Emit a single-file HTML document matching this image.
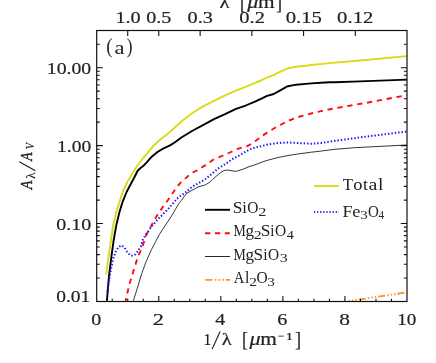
<!DOCTYPE html>
<html><head><meta charset="utf-8"><title>chart</title>
<style>
html,body{margin:0;padding:0;background:#fff;}
svg{display:block;will-change:transform;}
text{font-family:"Liberation Serif",serif;fill:#222;}
</style></head><body>
<svg width="436" height="363" viewBox="0 0 436 363">
<rect width="436" height="363" fill="#fff"/>
<defs><clipPath id="c"><rect x="96.7" y="30.5" width="310.3" height="271.6"/></clipPath></defs>
<g clip-path="url(#c)" fill="none" stroke-linejoin="round">
<polyline points="133.3,300.9 137.8,286.6 141.7,273.6 142.2,272.4 146.0,261.9 146.7,260.3 150.0,252.8 151.0,250.6 151.4,249.7 155.0,242.8 155.5,241.8 158.0,237.0 159.3,234.7 160.1,233.3 165.4,225.2 169.7,218.7 172.0,215.2 176.0,208.3 179.4,202.7 180.0,202.0 181.0,200.8 185.0,195.4 187.1,193.0 195.0,188.7 196.4,187.8 199.0,186.6 204.0,185.3 205.0,185.0 205.3,184.9 209.0,182.7 212.0,180.1 212.5,179.6 214.1,178.2 216.0,176.4 220.7,172.5 224.0,170.6 226.5,170.1 229.0,170.2 232.0,170.8 236.1,171.4 240.0,170.1 242.7,169.3 250.0,166.3 252.0,165.8 255.0,164.8 256.0,164.4 262.0,162.1 267.1,160.4 278.1,157.5 289.1,155.3 300.0,153.7 311.2,152.2 316.0,151.7 322.2,150.9 335.0,149.3 336.0,149.2 356.0,147.6 407.0,145.0" stroke="#2c2c2c" stroke-width="0.95"/>
<polyline points="348.0,301.2 407.0,292.3" stroke="#ff9326" stroke-width="1.8" stroke-dasharray="7.2 2.2 1.5 1.9 1.5 1.9 1.5 1.9" stroke-dashoffset="8.8"/>
<polyline points="125.6,300.9 129.2,284.8 133.6,270.5 138.1,256.1 141.8,248.5 146.0,235.8 146.6,234.2 150.0,228.2 154.3,219.9 158.0,214.2 163.9,205.3 165.0,204.0 170.0,197.3 172.0,194.1 173.6,191.8 176.0,188.3 180.0,183.3 181.0,182.2 182.6,181.0 189.8,174.5 192.0,172.8 198.0,170.0 203.0,166.6 205.7,165.1 212.0,160.5 214.0,159.4 222.0,156.0 225.1,154.7 232.0,151.5 236.1,149.7 240.0,148.2 247.2,146.1 250.0,144.6 256.0,140.6 262.0,136.1 267.1,132.6 278.1,126.0 289.1,120.5 300.0,116.5 311.2,113.5 322.2,110.9 331.0,109.0 356.0,104.6 365.0,103.1 407.0,95.2 407.0,95.2" stroke="#ff0d0d" stroke-width="1.9" stroke-dasharray="5.25 4.76" stroke-dashoffset="2.4"/>
<polyline points="106.9,300.9 109.0,275.8 111.7,254.3 113.7,240.0 116.5,224.2 119.5,212.0 122.6,201.9 126.6,192.0 131.2,183.3 134.8,176.5 137.5,171.0 140.5,168.0 143.2,166.0 146.5,162.6 152.0,156.4 157.5,152.0 163.1,148.6 170.0,145.4 175.0,142.2 181.0,137.8 192.0,131.0 203.0,125.2 214.0,119.2 225.1,114.2 236.0,108.8 245.0,105.8 245.7,105.5 255.0,101.6 255.6,101.3 256.0,101.1 262.0,98.3 266.0,96.3 267.1,95.9 272.0,94.5 273.5,94.0 273.7,94.0 280.3,90.3 285.6,87.3 286.9,86.5 293.5,85.1 296.0,84.7 306.0,83.9 311.2,83.4 325.0,82.5 330.0,82.3 335.0,82.2 360.0,81.4 407.0,79.6 407.0,79.6" stroke="#000" stroke-width="1.9"/>
<polyline points="107.3,292.0 108.7,282.1 111.4,266.9 113.4,257.9 116.1,250.8 118.8,246.8 121.5,245.4 124.2,247.2 126.9,251.6 130.1,255.2 132.7,255.8 135.4,254.3 138.1,250.8 139.0,249.3 140.8,246.8 142.7,240.1 145.0,235.9 147.7,232.1 150.4,228.1 153.0,224.9 153.2,224.7 158.2,218.7 159.8,217.4 165.9,211.3 166.4,210.9 173.0,203.4 173.6,202.7 176.0,199.9 178.0,197.8 182.6,194.5 183.2,194.2 189.2,189.3 192.0,186.8 195.8,184.7 198.0,183.4 202.4,181.1 203.0,180.6 205.0,179.2 209.0,176.1 212.0,173.7 214.0,171.9 218.6,168.2 225.1,164.2 231.8,159.4 236.0,157.1 238.4,156.0 240.0,155.1 245.0,152.0 247.0,150.9 252.0,148.6 256.0,147.3 262.0,146.0 267.1,144.7 278.1,143.0 289.1,142.5 300.0,143.2 311.2,143.7 322.2,142.9 335.0,140.8 340.0,140.2 356.0,137.9 407.0,131.5" stroke="#1414ff" stroke-width="2" stroke-dasharray="1.4 2.0"/>
<polyline points="106.2,274.4 108.5,257.0 111.0,240.0 113.4,224.2 116.3,212.0 119.5,201.9 123.1,191.0 127.3,182.0 132.0,174.0 137.1,166.0 142.5,158.8 148.3,151.8 153.5,145.8 159.4,140.3 166.8,134.6 174.0,128.3 181.0,121.8 192.0,113.2 203.0,106.4 214.0,100.9 225.1,95.4 236.0,90.6 245.0,87.1 245.7,86.8 255.0,82.9 255.6,82.7 256.0,82.5 262.0,80.0 266.0,78.0 267.1,77.5 273.5,75.2 273.7,75.2 280.3,71.7 285.6,69.3 286.9,68.6 293.5,67.2 296.0,66.8 306.0,65.7 311.2,65.0 325.0,63.6 330.0,63.1 335.0,62.6 360.0,60.5 407.0,56.1 407.0,56.1" stroke="#dada18" stroke-width="1.9"/>
</g>
<rect x="96.7" y="30.5" width="310.3" height="271.0" fill="none" stroke="#111" stroke-width="1.2"/>
<path d="M112.22 301.5 v-2.7 M127.73 301.5 v-2.7 M143.25 301.5 v-2.7 M158.76 301.5 v-5.4 M174.28 301.5 v-2.7 M189.79 301.5 v-2.7 M205.31 301.5 v-2.7 M220.82 301.5 v-5.4 M236.34 301.5 v-2.7 M251.85 301.5 v-2.7 M267.37 301.5 v-2.7 M282.88 301.5 v-5.4 M298.39 301.5 v-2.7 M313.91 301.5 v-2.7 M329.43 301.5 v-2.7 M344.94 301.5 v-5.4 M360.45 301.5 v-2.7 M375.97 301.5 v-2.7 M391.48 301.5 v-2.7 M127.73 30.5 v5.4 M158.76 30.5 v5.4 M200.13 30.5 v5.4 M251.85 30.5 v5.4 M303.57 30.5 v5.4 M355.28 30.5 v5.4 M96.7 278.04 h3.1 M407.0 278.04 h-3.1 M96.7 264.31 h3.1 M407.0 264.31 h-3.1 M96.7 254.58 h3.1 M407.0 254.58 h-3.1 M96.7 247.02 h3.1 M407.0 247.02 h-3.1 M96.7 240.85 h3.1 M407.0 240.85 h-3.1 M96.7 235.63 h3.1 M407.0 235.63 h-3.1 M96.7 231.11 h3.1 M407.0 231.11 h-3.1 M96.7 227.13 h3.1 M407.0 227.13 h-3.1 M96.7 223.56 h6.2 M407.0 223.56 h-6.2 M96.7 200.10 h3.1 M407.0 200.10 h-3.1 M96.7 186.37 h3.1 M407.0 186.37 h-3.1 M96.7 176.64 h3.1 M407.0 176.64 h-3.1 M96.7 169.08 h3.1 M407.0 169.08 h-3.1 M96.7 162.91 h3.1 M407.0 162.91 h-3.1 M96.7 157.69 h3.1 M407.0 157.69 h-3.1 M96.7 153.17 h3.1 M407.0 153.17 h-3.1 M96.7 149.19 h3.1 M407.0 149.19 h-3.1 M96.7 145.62 h6.2 M407.0 145.62 h-6.2 M96.7 122.16 h3.1 M407.0 122.16 h-3.1 M96.7 108.43 h3.1 M407.0 108.43 h-3.1 M96.7 98.70 h3.1 M407.0 98.70 h-3.1 M96.7 91.14 h3.1 M407.0 91.14 h-3.1 M96.7 84.97 h3.1 M407.0 84.97 h-3.1 M96.7 79.75 h3.1 M407.0 79.75 h-3.1 M96.7 75.23 h3.1 M407.0 75.23 h-3.1 M96.7 71.25 h3.1 M407.0 71.25 h-3.1 M96.7 67.68 h6.2 M407.0 67.68 h-6.2 M96.7 44.22 h3.1 M407.0 44.22 h-3.1 M96.7 30.49 h3.1 M407.0 30.49 h-3.1" stroke="#111" stroke-width="1.1" fill="none"/>
<!-- legend lines -->
<g fill="none">
<path d="M205 209.8H230" stroke="#000" stroke-width="1.9"/>
<path d="M205.1 233.3H229.8" stroke="#ff0d0d" stroke-width="1.9" stroke-dasharray="5.2 4.65"/>
<path d="M205 256.5H230" stroke="#2a2a2a" stroke-width="1"/>
<path d="M205.3 279.9H230" stroke="#ff9326" stroke-width="1.8" stroke-dasharray="7.1 2.5 1.6 2 1.6 2.2 1.6 1.7 6"/>
<path d="M314 186.1H339" stroke="#dada18" stroke-width="1.9"/>
<path d="M314 212H339" stroke="#1414ff" stroke-width="2" stroke-dasharray="1.15 1.95"/>
</g>
<g fill="#1c1c1c" stroke="#1c1c1c" stroke-width="0.18">
<text transform="translate(91.30,325.10) scale(1.156,1)" font-size="17.3">0</text>
<text transform="translate(152.85,325.10) scale(1.301,1)" font-size="17.3">2</text>
<text transform="translate(215.37,325.10) scale(1.156,1)" font-size="17.3">4</text>
<text transform="translate(277.32,325.10) scale(1.170,1)" font-size="17.3">6</text>
<text transform="translate(339.18,325.10) scale(1.239,1)" font-size="17.3">8</text>
<text transform="translate(397.13,325.10) scale(1.103,1)" font-size="17.3">10</text>
<text transform="translate(46.77,73.70) scale(1.142,1)" font-size="17.3">10.00</text>
<text transform="translate(57.09,151.70) scale(1.128,1)" font-size="17.3">1.00</text>
<text transform="translate(56.15,229.70) scale(1.160,1)" font-size="17.3">0.10</text>
<text transform="translate(56.17,302.00) scale(1.128,1)" font-size="17.3">0.01</text>
<text transform="translate(115.43,22.50) scale(1.171,1)" font-size="17.3">1.0</text>
<text transform="translate(146.25,22.60) scale(1.166,1)" font-size="17.3">0.5</text>
<text transform="translate(187.57,22.60) scale(1.171,1)" font-size="17.3">0.3</text>
<text transform="translate(239.28,22.60) scale(1.186,1)" font-size="17.3">0.2</text>
<text transform="translate(285.72,22.60) scale(1.198,1)" font-size="17.3">0.15</text>
<text transform="translate(337.12,22.60) scale(1.198,1)" font-size="17.3">0.12</text>
<text transform="translate(203.51,344.90) scale(0.912,1)" font-size="17.3">1</text>
<path d="M212.2 348.9L220.1 331.4" stroke-width="1.1" fill="none"/>
<text transform="translate(221.64,344.90) scale(1.217,1)" font-size="16.8">λ</text>
<text transform="translate(242.12,346.00) scale(0.813,1)" font-size="21.8">[</text>
<text transform="translate(249.45,344.90) scale(1.196,1)" font-size="18.5" font-style="italic">μ</text>
<text transform="translate(260.22,344.90) scale(1.186,1)" font-size="18">m</text>
<text transform="translate(278.09,339.70) scale(0.932,1)" font-size="12">−</text>
<text transform="translate(285.63,339.70) scale(1.355,1)" font-size="10.6">1</text>
<text transform="translate(295.01,346.00) scale(0.836,1)" font-size="21.8">]</text>
<text transform="translate(219.54,7.50) scale(1.217,1)" font-size="16.8">λ</text>
<text transform="translate(240.02,8.60) scale(0.813,1)" font-size="21.8">[</text>
<text transform="translate(247.35,7.50) scale(1.196,1)" font-size="18.5" font-style="italic">μ</text>
<text transform="translate(258.12,7.50) scale(1.186,1)" font-size="18">m</text>
<text transform="translate(275.91,8.60) scale(0.836,1)" font-size="21.8">]</text>
<g transform="rotate(-90)">
<text transform="translate(-189.37,32.00) scale(0.806,1)" font-size="17.6" font-style="italic" stroke-width="0.4">A</text>
<text transform="translate(-178.67,34.90) scale(1.046,1)" font-size="12.4">λ</text>
<path d="M-170.8 35.4L-161.8 19.3" stroke-width="1.1" fill="none"/>
<text transform="translate(-160.69,32.00) scale(0.780,1)" font-size="17.6" font-style="italic" stroke-width="0.4">A</text>
<text transform="translate(-149.16,34.05) scale(0.812,1)" font-size="12.6" font-style="italic">V</text>
</g>
</g>
<g fill="#666">
<text transform="translate(106.35,53.20) scale(0.927,1)" font-size="20.3">(</text>
<text transform="translate(114.41,53.70) scale(1.174,1)" font-size="19.2">a</text>
<text transform="translate(126.78,53.20) scale(0.853,1)" font-size="20.3">)</text>
</g>
<g fill="#4a4a4a">
<text transform="translate(232.72,213.20) scale(1.083,1)" font-size="16">S</text>
<text transform="translate(242.27,213.20) scale(1.042,1)" font-size="16">i</text>
<text transform="translate(247.28,213.20) scale(0.967,1)" font-size="16">O</text>
<text transform="translate(258.37,215.80) scale(1.401,1)" font-size="11.6">2</text>
<text transform="translate(233.38,236.40) scale(0.866,1)" font-size="16">M</text>
<text transform="translate(245.43,236.40) scale(1.063,1)" font-size="16">g</text>
<text transform="translate(253.69,239.00) scale(1.358,1)" font-size="11.6">2</text>
<text transform="translate(260.72,236.40) scale(1.083,1)" font-size="16">S</text>
<text transform="translate(270.30,236.40) scale(0.937,1)" font-size="16">i</text>
<text transform="translate(274.98,236.40) scale(0.967,1)" font-size="16">O</text>
<text transform="translate(286.82,239.00) scale(1.224,1)" font-size="11.6">4</text>
<text transform="translate(233.38,259.70) scale(0.866,1)" font-size="16">M</text>
<text transform="translate(245.43,259.70) scale(1.063,1)" font-size="16">g</text>
<text transform="translate(253.62,259.70) scale(1.083,1)" font-size="16">S</text>
<text transform="translate(263.18,259.70) scale(0.990,1)" font-size="16">i</text>
<text transform="translate(267.88,259.70) scale(0.967,1)" font-size="16">O</text>
<text transform="translate(279.78,262.30) scale(1.371,1)" font-size="11.6">3</text>
<text transform="translate(233.70,283.20) scale(0.922,1)" font-size="16">A</text>
<text transform="translate(245.08,283.20) scale(0.990,1)" font-size="16">l</text>
<text transform="translate(249.20,285.80) scale(1.336,1)" font-size="11.6">2</text>
<text transform="translate(256.38,283.20) scale(0.967,1)" font-size="16">O</text>
<text transform="translate(267.32,285.80) scale(1.309,1)" font-size="11.6">3</text>
<text transform="translate(342.67,189.60) scale(1.043,1)" font-size="16">T</text>
<text transform="translate(353.27,189.60) scale(1.146,1)" font-size="16">o</text>
<text transform="translate(363.02,189.60) scale(1.106,1)" font-size="16">t</text>
<text transform="translate(368.40,189.60) scale(1.250,1)" font-size="16">a</text>
<text transform="translate(377.91,189.60) scale(1.224,1)" font-size="16">l</text>
<text transform="translate(342.46,216.60) scale(1.122,1)" font-size="16">F</text>
<text transform="translate(352.36,216.60) scale(1.149,1)" font-size="16">e</text>
<text transform="translate(360.33,219.20) scale(1.288,1)" font-size="11.6">3</text>
<text transform="translate(368.10,216.60) scale(0.938,1)" font-size="16">O</text>
<text transform="translate(378.38,219.20) scale(0.964,1)" font-size="11.6">4</text>
</g>
</svg>
</body></html>
